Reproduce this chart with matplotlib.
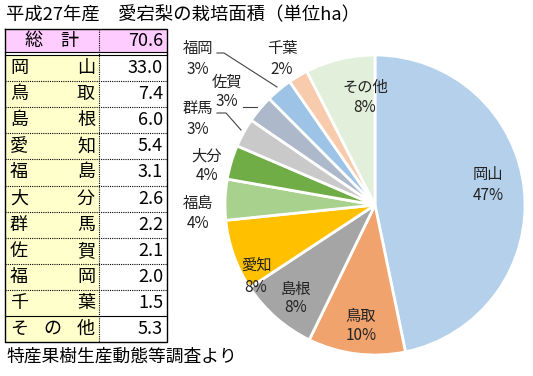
import matplotlib
matplotlib.use('Agg')
import matplotlib.pyplot as plt
from matplotlib.patches import Rectangle

plt.rcParams['font.family'] = ['Noto Sans CJK JP', 'DejaVu Sans']

# data
areas = ['岡山', '鳥取', '島根', '愛知', '福島', '大分', '群馬', '佐賀', '福岡', '千葉', 'その他']
values = [33.0, 7.4, 6.0, 5.4, 3.1, 2.6, 2.2, 2.1, 2.0, 1.5, 5.3]
total = 70.6
table_names = ['岡山', '鳥取', '島根', '愛知', '福島', '大分', '群馬', '佐賀', '福岡', '千葉', 'その他']
colors = ['#B4D0EA', '#F1A36E', '#A5A5A5', '#FFC000', '#A9D18E', '#70AD47',
          '#C9C9C9', '#ADB9CA', '#9DC3E6', '#F8CBAD', '#E2EFDA']

title = '平成27年産　愛宕梨の栽培面積（単位ha）'
source = '特産果樹生産動態等調査より'

# label positions in pixels (name center, pct center)
label_pos = [(488, 174, 195), (361, 316, 336), (296, 289, 308), (256, 265, 288),
             (198, 203, 223), (207, 156, 176), (198, 108, 129), (227, 82, 102),
             (198, 48, 69), (282, 48, 69), (365, 87, 108)]

fig = plt.figure(figsize=(5.33, 3.76), dpi=100)
ax = fig.add_axes([0, 0, 1, 1])

wedges, _ = ax.pie(values, colors=colors, startangle=-90, counterclock=True,
                   center=(375, 205), radius=150,
                   wedgeprops=dict(edgecolor='white', linewidth=2))
ax.set_xlim(0, 533)
ax.set_ylim(376, 0)
ax.axis('off')

for name, v, (x, y1, y2) in zip(areas, values, label_pos):
    ax.text(x, y1, name, ha='center', va='center', fontsize=11, color='#222222')
    ax.text(x, y2, '%d%%' % round(v / total * 100), ha='center', va='center',
            fontsize=11, color='#222222')

# leader lines
ax.plot([217, 224, 277], [53, 53, 87], color='#444444', lw=0.8)
ax.plot([243, 257], [107, 107], color='#444444', lw=0.8)
ax.plot([217, 226, 241], [113, 113, 130], color='#444444', lw=0.8)

# title / source
ax.text(6, 15, title, ha='left', va='center', fontsize=13.2)
ax.text(6, 357, source, ha='left', va='center', fontsize=12.8)

# table
x0, xm, x1 = 5, 99, 167
ax.add_patch(Rectangle((x0, 29), x1 - x0, 23, facecolor='#FFCCFF', edgecolor='none'))
row_h = 26.1
y_start = 55
for i in range(len(values)):
    ya = y_start + i * row_h
    ax.add_patch(Rectangle((x0, ya), xm - x0, row_h, facecolor='#FFFFCC', edgecolor='none'))
    if i < len(values) - 1:
        ls = (0, (1, 1)) if i < len(values) - 2 else '-'
        ax.plot([x0, x1], [ya + row_h, ya + row_h], color='black', lw=0.8, linestyle=ls)
    nm = table_names[i]
    yc = ya + row_h / 2
    if len(nm) == 2:
        ax.text(10, yc, nm[0], ha='left', va='center', fontsize=13)
        ax.text(95, yc, nm[1], ha='right', va='center', fontsize=13)
    else:
        ax.text(10, yc, nm[0], ha='left', va='center', fontsize=13)
        ax.text(52, yc, nm[1], ha='center', va='center', fontsize=13)
        ax.text(95, yc, nm[2], ha='right', va='center', fontsize=13)
    ax.text(163, yc, '%.1f' % values[i], ha='right', va='center', fontsize=13)

y_end = y_start + len(values) * row_h
ax.plot([x0, x1, x1, x0, x0], [29, 29, y_end, y_end, 29], color='black', lw=1)
ax.plot([x0, x1], [52, 52], color='black', lw=0.8)
ax.plot([x0, x1], [55, 55], color='black', lw=0.8)
ax.plot([xm, xm], [29, y_end], color='black', lw=0.8, linestyle=(0, (1, 1)))
ax.text(52, 41, '総　計', ha='center', va='center', fontsize=13)
ax.text(163, 41, '%.1f' % total, ha='right', va='center', fontsize=13)

fig.savefig('out.png', dpi=100)
